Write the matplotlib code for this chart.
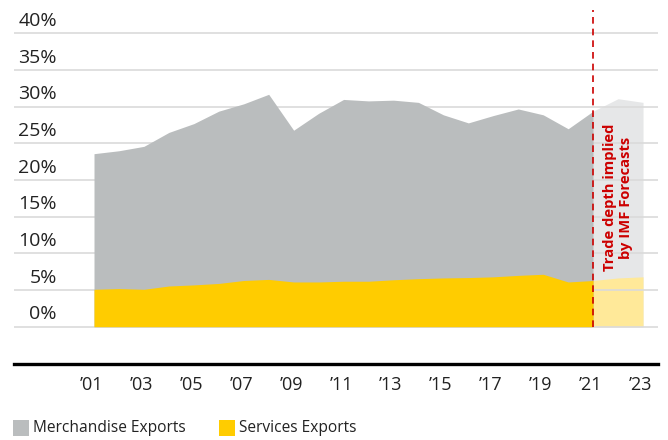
import matplotlib
matplotlib.use("Agg")
import matplotlib.pyplot as plt
from matplotlib.patches import Rectangle
import matplotlib.transforms as mtransforms

plt.rcParams['font.family'] = ['Open Sans', 'DejaVu Sans']

# ---- data ----
years = list(range(2001, 2022))
total_exports = [23.6, 24.0, 24.6, 26.5, 27.7, 29.4, 30.4, 31.7, 26.8, 29.1, 31.0,
                 30.8, 30.9, 30.6, 28.9, 27.8, 28.8, 29.7, 28.9, 27.0, 29.4]
services_exports = [5.1, 5.2, 5.1, 5.55, 5.7, 5.9, 6.3, 6.45, 6.1, 6.1, 6.2,
                    6.2, 6.4, 6.55, 6.65, 6.7, 6.8, 7.0, 7.15, 6.1, 6.3]
fc_years = [2021, 2022, 2023]
fc_total = [29.4, 31.1, 30.6]
fc_services = [6.3, 6.65, 6.8]
tick_years = list(range(2001, 2024, 2))
tick_labels = ["\u2019%02d" % (y % 100) for y in tick_years]
y_ticks = [0, 5, 10, 15, 20, 25, 30, 35, 40]
y_labels = ["%d%%" % v for v in y_ticks]
legend_labels = ["Merchandise Exports", "Services Exports"]
annotation = "Trade depth implied\nby IMF Forecasts"

GREY = "#babdbe"
YELLOW = "#ffcc00"
LGREY = "#e6e7e8"
LYELLOW = "#ffe999"
RED = "#cc0000"

W, H = 668, 440
fig = plt.figure(figsize=(W / 100, H / 100), dpi=100)
ax = fig.add_axes([14 / W, 1 - 364 / H, (658 - 14) / W, (364 - 10) / H])
ax.set_xlim(1997.794, 2023.60)
ax.set_ylim(-5.09, 43.2)
for s in ['top', 'right', 'left']:
    ax.spines[s].set_visible(False)
ax.spines['bottom'].set_color('black')
ax.spines['bottom'].set_linewidth(2.4)
ax.set_xticks([])
ax.set_yticks([])

# forecast areas (below gridlines)
ax.fill_between(fc_years, 0, fc_total, color=LGREY, lw=0, zorder=0.5)
ax.fill_between(fc_years, 0, fc_services, color=LYELLOW, lw=0, zorder=0.6)

# gridlines
for v in y_ticks:
    ax.axhline(v, color="#dadada", lw=1.2, zorder=1)

# main areas
ax.fill_between(years, 0, total_exports, color=GREY, lw=0, zorder=2)
ax.fill_between(years, 0, services_exports, color=YELLOW, lw=0, zorder=3)

# dashed forecast line
ax.plot([2021, 2021], [0, 43.2], color=RED, lw=1.2, dashes=(4, 3), zorder=4,
        clip_on=False)
ax.text(2022.0, 17.6, annotation, rotation=90, ha='center', va='center',
        color=RED, fontsize=10.6, fontweight='bold', linespacing=1.2, zorder=5)

# y labels
ty = mtransforms.blended_transform_factory(ax.transAxes, ax.transData)
for v, lab in zip(y_ticks, y_labels):
    ax.text((57 - 14) / 644, v + 1.0, lab, transform=ty, ha='right',
            va='baseline', fontsize=14, color='#222222', clip_on=False)

# x labels
tx = mtransforms.blended_transform_factory(ax.transData, ax.transAxes)
for yr, lab in zip(tick_years, tick_labels):
    ax.text(yr - 0.1, -(390 - 364) / 354, lab, transform=tx, ha='center',
            va='baseline', fontsize=13, color='#222222', clip_on=False)

# legend
for (x0, col, lab) in [(13, GREY, legend_labels[0]), (219, YELLOW, legend_labels[1])]:
    fig.add_artist(Rectangle((x0 / W, 1 - 436 / H), 16 / W, 16 / H,
                             transform=fig.transFigure, color=col, lw=0))
    fig.text((x0 + 20) / W, 1 - 428 / H, lab, ha='left', va='center',
             fontsize=11.2, color='#222222')

fig.savefig("out.png", dpi=100)
